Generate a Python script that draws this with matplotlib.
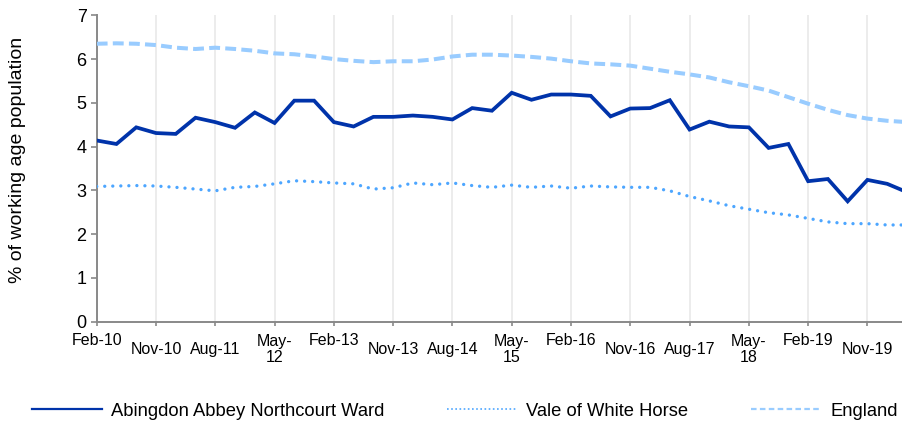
import matplotlib
matplotlib.use("Agg")
import matplotlib.pyplot as plt
from matplotlib.lines import Line2D
import numpy as np

plt.rcParams['font.family'] = ['Liberation Sans', 'DejaVu Sans']

# Quarterly periods Feb-10 .. May-20
n_points = 42
tick_labels = ["Feb-10", "Nov-10", "Aug-11", "May-\n12", "Feb-13", "Nov-13", "Aug-14",
               "May-\n15", "Feb-16", "Nov-16", "Aug-17", "May-\n18", "Feb-19", "Nov-19"]
tick_positions = [0, 3, 6, 9, 12, 15, 18, 21, 24, 27, 30, 33, 36, 39]

abingdon = [4.14, 4.06, 4.44, 4.31, 4.29, 4.66, 4.56, 4.43, 4.78, 4.54,
            5.05, 5.05, 4.56, 4.46, 4.68, 4.68, 4.71, 4.68, 4.62, 4.88,
            4.82, 5.23, 5.07, 5.19, 5.19, 5.16, 4.69, 4.87, 4.88, 5.06,
            4.39, 4.57, 4.46, 4.44, 3.97, 4.06, 3.21, 3.26, 2.75, 3.24,
            3.15, 2.96]
vale = [3.09, 3.10, 3.11, 3.10, 3.07, 3.03, 2.99, 3.07, 3.09, 3.15,
        3.22, 3.20, 3.17, 3.15, 3.03, 3.06, 3.17, 3.13, 3.17, 3.11,
        3.07, 3.12, 3.07, 3.10, 3.05, 3.10, 3.08, 3.07, 3.07, 2.99,
        2.86, 2.76, 2.65, 2.57, 2.49, 2.44, 2.36, 2.28, 2.24, 2.24,
        2.21, 2.21]
england = [6.35, 6.36, 6.35, 6.32, 6.26, 6.23, 6.26, 6.23, 6.19, 6.13,
           6.11, 6.06, 6.00, 5.96, 5.93, 5.95, 5.95, 5.99, 6.06, 6.10,
           6.10, 6.08, 6.05, 6.01, 5.95, 5.90, 5.88, 5.85, 5.78, 5.71,
           5.65, 5.58, 5.47, 5.38, 5.28, 5.13, 4.98, 4.84, 4.72, 4.64,
           4.59, 4.56]

series_names = ["Abingdon Abbey Northcourt Ward", "Vale of White Horse", "England"]
c_dark = "#0033AA"
c_dot = "#4DA6FF"
c_dash = "#99CCFF"

W, H = 903, 423
fig = plt.figure(figsize=(W / 100, H / 100), dpi=100)
left, right = 96.7 / W, 1.0
bottom, top = 1 - 321.7 / H, 1 - 15.3 / H
ax = fig.add_axes([left, bottom, right - left, top - bottom])

x = np.arange(n_points)
ax.plot(x, england, color=c_dash, lw=2.9, linestyle=(0, (2.7, 1.3)),
        dash_capstyle='butt', solid_joinstyle='round', zorder=3)
ax.plot(x, vale, color=c_dot, lw=2.4, linestyle=(0, (0.01, 2.4)),
        dash_capstyle='round', zorder=3)
ax.plot(x, abingdon, color=c_dark, lw=2.7, solid_joinstyle='miter', zorder=4)

ax.set_xlim(0, 40.8)
ax.set_ylim(0, 7)
ax.set_yticks(range(0, 8))
ax.set_xticks(tick_positions)
ax.set_xticklabels([""] * len(tick_positions))
ax.grid(axis='x', color='#EBEBEB', lw=1.3, zorder=0)
ax.set_axisbelow(True)

for s in ['top', 'right']:
    ax.spines[s].set_visible(False)
for s in ['left', 'bottom']:
    ax.spines[s].set_color('#898989')
    ax.spines[s].set_linewidth(1.4)
ax.tick_params(axis='y', direction='out', length=4.3, width=1.2, color='#898989',
               pad=3, labelsize=13, labelcolor='black')
ax.tick_params(axis='x', direction='out', length=3.2, width=1.2, color='#898989',
               pad=2, labelsize=11.5)

axh = 321.7 - 15.3
for pos, lab in zip(tick_positions, tick_labels):
    if lab.startswith("Feb"):
        yc = -(340.7 - 321.7) / axh
    else:
        yc = -(349.5 - 321.7) / axh
    ax.text(pos, yc, lab, transform=ax.get_xaxis_transform(), ha='center', va='center',
            fontsize=11.5, linespacing=1.05)

fig.text(18 / W, 1 - 160 / H, "% of working age population", rotation=90,
         ha='center', va='center', fontsize=14)

handles = [Line2D([], [], color=c_dark, lw=1.6),
           Line2D([], [], color=c_dot, lw=1.2, linestyle=(0, (1, 1.5))),
           Line2D([], [], color=c_dash, lw=1.6, linestyle=(0, (2.5, 1.5)))]
fig.legend(handles, series_names, loc='center left', bbox_to_anchor=(32 / W, 1 - 411 / H),
           ncol=3, frameon=False, fontsize=13.2, handlelength=3.8, handletextpad=0.5,
           columnspacing=3.44, borderpad=0, borderaxespad=0)

fig.savefig("out.png", dpi=100)
